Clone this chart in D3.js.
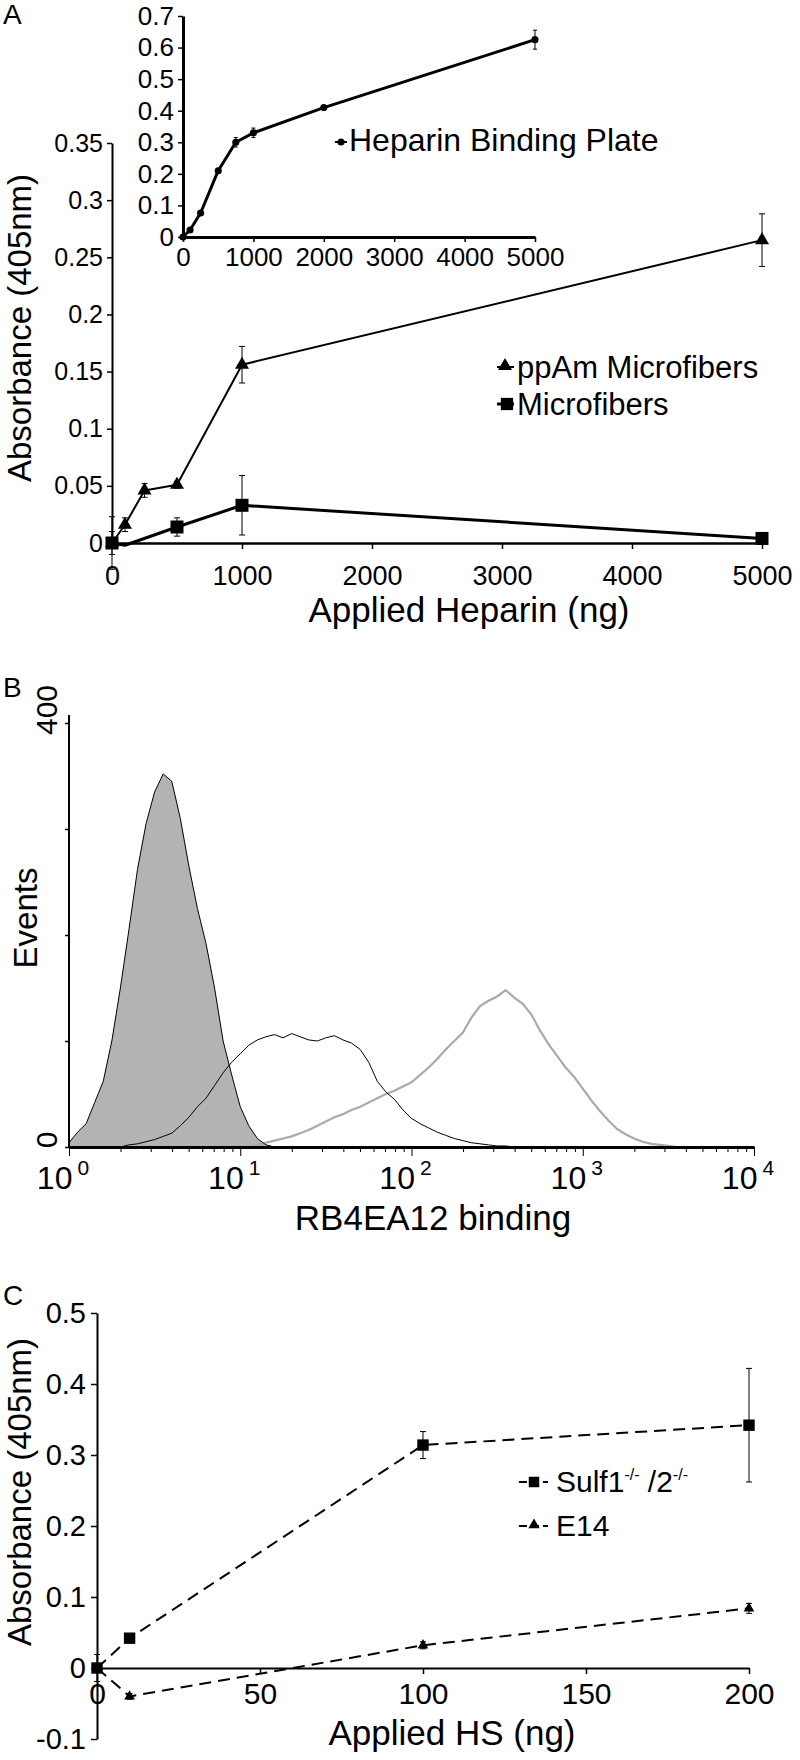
<!DOCTYPE html>
<html><head><meta charset="utf-8">
<script src="https://cdn.jsdelivr.net/npm/d3@7"></script>
<style>
body{margin:0;background:#fff}
svg{display:block}
</style></head><body>
<svg id="c" width="800" height="1760"></svg>
<script>
// ---------- DATA ----------
// Panel A inset: Heparin Binding Plate
const insetDose = [0, 100, 250, 500, 750, 1000, 2000, 5000];
const insetAbs  = [0, 0.022, 0.076, 0.21, 0.30, 0.33, 0.41, 0.625];
const insetErr  = [0.004, 0.004, 0.004, 0.004, 0.015, 0.015, 0.005, 0.03];
const insetXTicks = [0, 1000, 2000, 3000, 4000, 5000];
const insetYTicks = [0, 0.1, 0.2, 0.3, 0.4, 0.5, 0.6, 0.7];

// Panel A main
const ppAmDose = [0, 100, 250, 500, 1000, 5000];
const ppAmAbs  = [0, 0.016, 0.046, 0.051, 0.156, 0.265];
const ppAmErr  = [0.01, 0.006, 0.006, 0.003, 0.016, 0.023];
const microDose = [0, 100, 500, 1000, 5000];
const microAbs  = [0, -0.002, 0.014, 0.033, 0.004];
const microErr  = [0.023, 0, 0.008, 0.026, 0.003];
const microShown = [true, false, true, true, true];
const aXTicks = [0, 1000, 2000, 3000, 4000, 5000];
const aYTicks = [0, 0.05, 0.1, 0.15, 0.2, 0.25, 0.3, 0.35];

// Panel B histograms (log10 bins, step 0.05)
const grayStart = 0.0, blackStart = 0.30, lightStart = 1.05, binStep = 0.05;
const grayCounts  = [4,14,22,42,62,100,150,205,262,305,335,352,345,310,265,225,192,150,100,68,38,20,8,2,0];
const blackCounts = [0,2,3,5,7,10,13,20,28,38,46,58,70,80,88,96,101,104,106,103,107,104,101,100,103,105,101,98,92,80,62,52,45,35,27,22,18,14,11,8,6,4,3,2,1,1,0];
const lightCounts = [0,2,4,6,8,10,13,16,20,24,28,31,35,38,42,46,50,53,57,61,68,75,83,92,100,108,122,133,138,142,148,141,135,125,110,97,86,75,66,55,44,34,25,17,12,8,5,3,2,1,0];
const bDecades = [1, 10, 100, 1000, 10000];
const bExp = ["0", "1", "2", "3", "4"];
const bYTicks = [0, 100, 200, 300, 400];

// Panel C
const hsDose = [0, 10, 100, 200];
const sulfAbs = [0, 0.042, 0.314, 0.342];
const sulfErr = [0.019, 0.005, 0.019, 0.08];
const e14Abs  = [0, -0.04, 0.032, 0.084];
const e14Err  = [0.004, 0.004, 0.005, 0.007];
const cXTicks = [0, 50, 100, 150, 200];
const cYTicks = [-0.1, 0, 0.1, 0.2, 0.3, 0.4, 0.5];

// ---------- DRAW ----------
const FONT = '"Liberation Sans", Arial, Helvetica, sans-serif';
const svg = d3.select("#c").attr("font-family", FONT);

function styleAxis(g, fs, sw) {
  g.attr("font-family", FONT);
  g.select(".domain").attr("stroke", "#000").attr("stroke-width", sw);
  g.selectAll(".tick line").attr("stroke", "#000").attr("stroke-width", 1.5);
  g.selectAll(".tick text").attr("fill", "#000").attr("font-size", fs);
}
function txt(x, y, s, fs, anchor, rot) {
  const t = svg.append("text").attr("x", x).attr("y", y).attr("font-size", fs)
    .attr("text-anchor", anchor || "start").attr("fill", "#000").text(s);
  if (rot) t.attr("transform", `rotate(${rot},${x},${y})`);
  return t;
}
function errBars(g, xs, ys, es, xS, yS, cap) {
  xs.forEach((d, i) => {
    if (!es[i]) return;
    const x = xS(d), y1 = yS(ys[i] - es[i]), y2 = yS(ys[i] + es[i]);
    g.append("line").attr("x1", x).attr("x2", x).attr("y1", y1).attr("y2", y2).attr("stroke", "#000").attr("stroke-width", 1);
    [y1, y2].forEach(yy => g.append("line").attr("x1", x - cap).attr("x2", x + cap).attr("y1", yy).attr("y2", yy).attr("stroke", "#000").attr("stroke-width", 1));
  });
}
function markers(g, xs, ys, xS, yS, type, size, shown) {
  g.selectAll(null).data(xs.map((d, i) => [d, ys[i], shown ? shown[i] : true]).filter(d => d[2]))
    .enter().append("path")
    .attr("d", d3.symbol().type(type).size(size))
    .attr("transform", d => `translate(${xS(d[0])},${yS(d[1])})`)
    .attr("fill", "#000");
}
function series(g, xs, ys, xS, yS, w, dash) {
  const p = g.append("path").datum(xs.map((d, i) => [d, ys[i]]))
    .attr("d", d3.line().x(d => xS(d[0])).y(d => yS(d[1])))
    .attr("fill", "none").attr("stroke", "#000").attr("stroke-width", w).attr("stroke-linejoin", "round");
  if (dash) p.attr("stroke-dasharray", dash);
}

// ===== Panel A main =====
const xA = d3.scaleLinear([0, 5000], [112, 762]);
const yA = d3.scaleLinear([0, 0.35], [543, 143]);
const gA = svg.append("g");
gA.append("g").attr("transform", "translate(0,543)")
  .call(d3.axisBottom(xA).tickValues(aXTicks).tickSize(6).tickPadding(17).tickSizeOuter(0).tickFormat(d3.format("d")))
  .call(g => styleAxis(g, 27, 2.5));
gA.append("g").attr("transform", "translate(112,0)")
  .call(d3.axisLeft(yA).tickValues(aYTicks).tickSize(5).tickPadding(4).tickSizeOuter(0).tickFormat(d => String(d)))
  .call(g => styleAxis(g, 25, 2));
series(gA, ppAmDose, ppAmAbs, xA, yA, 2);
series(gA, microDose, microAbs, xA, yA, 3);
errBars(gA, ppAmDose, ppAmAbs, ppAmErr, xA, yA, 3);
errBars(gA, microDose, microAbs, microErr, xA, yA, 3);
markers(gA, ppAmDose, ppAmAbs, xA, yA, d3.symbolTriangle, 85);
markers(gA, microDose, microAbs, xA, yA, d3.symbolSquare, 169, microShown);
// legend
gA.append("line").attr("x1", 497).attr("x2", 514).attr("y1", 367).attr("y2", 367).attr("stroke", "#000").attr("stroke-width", 2);
gA.append("path").attr("d", d3.symbol().type(d3.symbolTriangle).size(85)).attr("transform", "translate(505,366)");
txt(517, 378, "ppAm Microfibers", 31);
gA.append("line").attr("x1", 497).attr("x2", 514).attr("y1", 404).attr("y2", 404).attr("stroke", "#000").attr("stroke-width", 3);
gA.append("path").attr("d", d3.symbol().type(d3.symbolSquare).size(150)).attr("transform", "translate(507,404)");
txt(517, 415, "Microfibers", 31);

// ===== Panel A inset =====
const xI = d3.scaleLinear([0, 5000], [183, 535]);
const yI = d3.scaleLinear([0, 0.7], [237, 16]);
const gI = svg.append("g");
gI.append("g").attr("transform", "translate(0,237)")
  .call(d3.axisBottom(xI).tickValues(insetXTicks).tickSize(5).tickPadding(6).tickSizeOuter(0).tickFormat(d3.format("d")))
  .call(g => styleAxis(g, 26, 3));
gI.append("g").attr("transform", "translate(183,0)")
  .call(d3.axisLeft(yI).tickValues(insetYTicks).tickSize(5).tickPadding(4).tickSizeOuter(0).tickFormat(d => String(d)))
  .call(g => styleAxis(g, 26, 3));
series(gI, insetDose, insetAbs, xI, yI, 3);
errBars(gI, insetDose, insetAbs, insetErr, xI, yI, 2);
markers(gI, insetDose, insetAbs, xI, yI, d3.symbolCircle, 40);
gI.append("line").attr("x1", 335).attr("x2", 347).attr("y1", 142).attr("y2", 142).attr("stroke", "#000").attr("stroke-width", 2);
gI.append("circle").attr("cx", 341).attr("cy", 142).attr("r", 3.5);
txt(349, 151, "Heparin Binding Plate", 32);

txt(3, 24, "A", 28);
txt(31, 328, "Absorbance (405nm)", 33, "middle", -90);
txt(469, 622, "Applied Heparin (ng)", 35, "middle");

// ===== Panel B =====
const xB = d3.scaleLog([1, 1e4], [69, 754]);
const yB = d3.scaleLinear([0, 400], [1147, 723]);
const gB = svg.append("g");
const toPts = (start, counts) => counts.map((c, i) => [Math.pow(10, start + i * binStep), c]);
const grayPts = toPts(grayStart, grayCounts);
gB.append("path").datum(grayPts)
  .attr("d", d3.area().x(d => xB(d[0])).y0(yB(0)).y1(d => yB(d[1])))
  .attr("fill", "#b3b3b3").attr("stroke", "none");
const lineB = d3.line().x(d => xB(d[0])).y(d => yB(d[1]));
gB.append("path").datum(toPts(lightStart, lightCounts)).attr("d", lineB)
  .attr("fill", "none").attr("stroke", "#aaaaaa").attr("stroke-width", 2.2);
gB.append("path").datum(toPts(blackStart, blackCounts)).attr("d", lineB)
  .attr("fill", "none").attr("stroke", "#000").attr("stroke-width", 1);
gB.append("path").datum(grayPts).attr("d", lineB)
  .attr("fill", "none").attr("stroke", "#000").attr("stroke-width", 1);
// axes
const minorTicks = [];
bDecades.slice(0, -1).forEach(d => { for (let k = 1; k < 10; k++) minorTicks.push(d * k); });
minorTicks.push(1e4);
gB.append("g").attr("transform", "translate(0,1147)")
  .call(d3.axisBottom(xB).tickValues(minorTicks).tickSize(5).tickFormat("").tickSizeOuter(0))
  .call(g => styleAxis(g, 10, 3))
  .call(g => g.selectAll(".tick line").attr("y2", d => bDecades.includes(d) ? 9 : 5).attr("stroke-width", 1));
gB.append("g").attr("transform", "translate(69,0)")
  .call(d3.axisLeft(yB).tickValues(bYTicks).tickSize(4).tickFormat("").tickSizeOuter(0))
  .call(g => styleAxis(g, 10, 2))
  .call(g => g.select(".domain").attr("d", "M0,1147V715"));
bDecades.forEach((d, i) => {
  const t = svg.append("text").attr("x", xB(d) - 6).attr("y", 1189).attr("font-size", 32)
    .attr("text-anchor", "middle").attr("fill", "#000");
  t.append("tspan").text("10");
  t.append("tspan").attr("dx", 5).attr("dy", -14).attr("font-size", 21).text(bExp[i]);
});
txt(57, 1140, "0", 30, "middle", -90);
txt(57, 710, "400", 30, "middle", -90);
txt(3, 697, "B", 28);
txt(37, 918, "Events", 33, "middle", -90);
txt(433, 1230, "RB4EA12 binding", 35, "middle");

// ===== Panel C =====
const xC = d3.scaleLinear([0, 200], [97, 749]);
const yC = d3.scaleLinear([-0.1, 0.5], [1739, 1313]);
const gC = svg.append("g");
gC.append("g").attr("transform", `translate(0,${yC(0)})`)
  .call(d3.axisBottom(xC).tickValues(cXTicks).tickSize(6).tickPadding(9).tickSizeOuter(0).tickFormat(d3.format("d")))
  .call(g => styleAxis(g, 30, 2));
gC.append("g").attr("transform", "translate(97,0)")
  .call(d3.axisLeft(yC).tickValues(cYTicks).tickSize(6).tickPadding(5).tickSizeOuter(0).tickFormat(d => String(d)))
  .call(g => styleAxis(g, 29, 2));
series(gC, hsDose, sulfAbs, xC, yC, 2, "12,7");
series(gC, hsDose, e14Abs, xC, yC, 2, "12,7");
errBars(gC, hsDose, sulfAbs, sulfErr, xC, yC, 3);
errBars(gC, hsDose, e14Abs, e14Err, xC, yC, 3);
markers(gC, hsDose, e14Abs, xC, yC, d3.symbolTriangle, 50);
markers(gC, hsDose, sulfAbs, xC, yC, d3.symbolSquare, 130);
// legend
gC.append("line").attr("x1", 519).attr("x2", 548).attr("y1", 1482).attr("y2", 1482).attr("stroke", "#000").attr("stroke-width", 2).attr("stroke-dasharray", "8,4");
gC.append("path").attr("d", d3.symbol().type(d3.symbolSquare).size(110)).attr("transform", "translate(534,1482)");
const lt = svg.append("text").attr("x", 556).attr("y", 1492).attr("font-size", 30).attr("fill", "#000");
lt.append("tspan").text("Sulf1");
lt.append("tspan").attr("dy", -12).attr("font-size", 16).text("-/-");
lt.append("tspan").attr("dy", 12).text(" /2");
lt.append("tspan").attr("dy", -12).attr("font-size", 16).text("-/-");
gC.append("line").attr("x1", 519).attr("x2", 548).attr("y1", 1526).attr("y2", 1526).attr("stroke", "#000").attr("stroke-width", 2).attr("stroke-dasharray", "8,4");
gC.append("path").attr("d", d3.symbol().type(d3.symbolTriangle).size(55)).attr("transform", "translate(534,1525)");
txt(556, 1536, "E14", 30);

txt(3, 1305, "C", 28);
txt(31, 1492, "Absorbance (405nm)", 33, "middle", -90);
txt(452, 1745, "Applied HS (ng)", 35, "middle");
</script>
</body></html>
